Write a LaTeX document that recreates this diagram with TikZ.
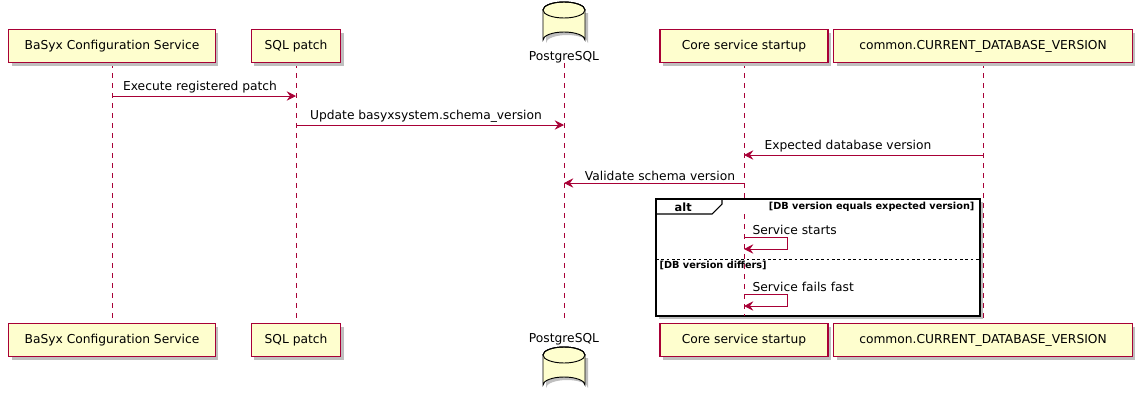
\documentclass[tikz,border=0pt]{standalone}
\usepackage{fontspec}
\setmainfont{DejaVu Sans}
\usetikzlibrary{arrows.meta,shapes.geometric}
\definecolor{pfill}{HTML}{FEFECE}
\definecolor{pline}{HTML}{A80036}
\tikzset{
  x=0.75pt,y=-0.75pt,
  part/.style={draw=pline,fill=pfill,line width=0.9pt,minimum height=24.75pt,inner sep=4.5pt,font=\fontsize{9.2}{11}\selectfont},
  life/.style={draw=pline,dashed,dash pattern=on 3.75pt off 3.75pt,line width=0.6pt},
  msg/.style={draw=pline,line width=0.75pt,-{Triangle[length=7pt,width=7pt,inset=2.5pt]}},
  lbl/.style={font=\fontsize{9.2}{11}\selectfont,inner sep=1pt,anchor=south},
  guard/.style={font=\bfseries\fontsize{7.3}{9}\selectfont,inner sep=1pt}
}
\newcommand{\partic}[5]{% name, center x, y center, width pt, text
  \node[part,fill=black!25,draw=none,minimum width=#4] at (#2+3,#3+3) {\phantom{#5}};
  \node[part,minimum width=#4] (#1) at (#2,#3) {#5};}
\newcommand{\cyl}[3]{% name, cx, top y
  \fill[black!25] (#2-21+3,#3+8+3) -- (#2-21+3,#3+38+3) arc[start angle=180,end angle=360,x radius=21,y radius=8] -- (#2+21+3,#3+8+3) -- cycle;
  \filldraw[draw=black,fill=pfill,line width=0.7pt] (#2-21,#3+8) arc[start angle=180,end angle=360,x radius=21,y radius=8] -- (#2+21,#3+38) arc[start angle=0,end angle=-180,x radius=21,y radius=8] -- cycle;
  \filldraw[draw=black,fill=pfill,line width=0.7pt] (#2,#3+8) ellipse[x radius=21,y radius=8];
  \draw[line width=0.7pt] (#2-21,#3+8) arc[start angle=180,end angle=360,x radius=21,y radius=8];
  \coordinate (#1) at (#2,#3);}
\begin{document}
\begin{tikzpicture}
\useasboundingbox (0,0) rectangle (1140,404);
\foreach \x in {112,296,564,744,983} \draw[life] (\x,63) -- (\x,323);
\partic{a}{112}{46}{155pt}{BaSyx Configuration Service}
\partic{b}{296}{46}{67pt}{SQL patch}
\partic{d}{744}{46}{126pt}{Core service startup}
\partic{e}{983}{46}{224pt}{common.CURRENT\_DATABASE\_VERSION}
\cyl{c}{564}{2}
\node[font=\fontsize{9.2}{11}\selectfont] (ct) at (564,57) {PostgreSQL};
\partic{a2}{112}{340}{155pt}{BaSyx Configuration Service}
\partic{b2}{296}{340}{67pt}{SQL patch}
\partic{d2}{744}{340}{126pt}{Core service startup}
\partic{e2}{983}{340}{224pt}{common.CURRENT\_DATABASE\_VERSION}
\node[font=\fontsize{9.2}{11}\selectfont] (cb) at (564,339) {PostgreSQL};
\cyl{c2}{564}{347}
\coordinate (m1a) at (112,96); \coordinate (m1b) at (296,96);
\draw[msg] (m1a) -- (m1b);
\node[lbl] at (200,95) {Execute registered patch};
\coordinate (m2a) at (296,125); \coordinate (m2b) at (564,125);
\draw[msg] (m2a) -- (m2b);
\node[lbl] at (426,124) {Update basyxsystem.schema\_version};
\coordinate (m3a) at (983,155); \coordinate (m3b) at (744,155);
\draw[msg] (m3a) -- (m3b);
\node[lbl] at (848,154) {Expected database version};
\coordinate (m4a) at (744,183); \coordinate (m4b) at (564,183);
\draw[msg] (m4a) -- (m4b);
\node[lbl] at (660,182) {Validate schema version};
\fill[black!25] (659,202) rectangle (983,319);
\draw[line width=1.5pt,fill=white] (656,199) rectangle (980,316);
\draw[line width=0.8pt] (656,214) -- (712,214) -- (722,204) -- (722,199);
\node[font=\bfseries\fontsize{8.5}{10}\selectfont,anchor=west] at (670,207) {alt};
\node[guard,anchor=east] at (976,207) {[DB version equals expected version]};
\draw[dashed,dash pattern=on 2pt off 2pt,line width=0.6pt] (656,259) -- (980,259);
\node[guard,anchor=west] at (658,265) {[DB version differs]};
\draw[life] (744,214) -- (744,316);
\coordinate (s1) at (744,237);
\draw[msg] (s1) -- (787,237) -- (787,249) -- (744,249);
\node[lbl,anchor=south west] at (751,236) {Service starts};
\coordinate (s2) at (744,294);
\draw[msg] (s2) -- (787,294) -- (787,306) -- (744,306);
\node[lbl,anchor=south west] at (751,293) {Service fails fast};
\end{tikzpicture}
\end{document}
